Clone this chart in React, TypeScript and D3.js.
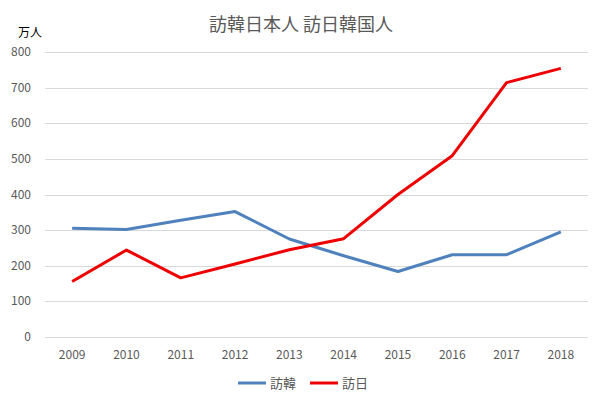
import { useEffect, useRef } from 'react';
import * as d3 from 'd3';

const years = ['2009', '2010', '2011', '2012', '2013', '2014', '2015', '2016', '2017', '2018'];
const visitKorea = [305, 302, 328, 352, 275, 228, 184, 231, 231, 295];
const visitJapan = [156, 244, 166, 205, 245, 276, 400, 509, 714, 754];
const yTicks = [0, 100, 200, 300, 400, 500, 600, 700, 800];

const W = 602, H = 406;
const font = '"Noto Sans CJK JP", "Noto Sans", sans-serif';

export default function App() {
  const ref = useRef<SVGSVGElement>(null);

  useEffect(() => {
    if (!ref.current) return;
    const svg = d3.select(ref.current);
    svg.selectAll('*').remove();

    const x = d3.scaleBand().domain(years).range([45, 588]);
    const y = d3.scaleLinear().domain([0, 800]).range([337, 52]);
    const cx = (d: string) => (x(d) as number) + x.bandwidth() / 2;

    svg.append('rect').attr('x', 0.5).attr('y', 0.5).attr('width', W - 1).attr('height', H - 1)
      .attr('fill', '#fff').attr('stroke', '#d9d9d9');

    svg.append('g').selectAll('line').data(yTicks.slice(1)).enter().append('line')
      .attr('x1', 45).attr('x2', 588)
      .attr('y1', d => Math.round(y(d)) + 0.5).attr('y2', d => Math.round(y(d)) + 0.5)
      .attr('stroke', '#d9d9d9');

    svg.append('line').attr('x1', 45).attr('x2', 588)
      .attr('y1', Math.round(y(0)) + 0.5).attr('y2', Math.round(y(0)) + 0.5).attr('stroke', '#d9d9d9');

    svg.append('g').selectAll('text').data(yTicks).enter().append('text')
      .attr('x', 31).attr('y', d => y(d) + 4).attr('text-anchor', 'end')
      .attr('font-size', 12).attr('font-family', font).attr('fill', '#595959')
      .text(d => d);

    svg.append('g').selectAll('text').data(years).enter().append('text')
      .attr('x', cx).attr('y', 359).attr('text-anchor', 'middle')
      .attr('font-size', 12).attr('font-family', font).attr('fill', '#595959')
      .text(d => d);

    const line = d3.line<number>().x((_, i) => cx(years[i])).y(d => y(d));
    svg.append('path').datum(visitKorea).attr('d', line).attr('fill', 'none')
      .attr('stroke', '#4f81bd').attr('stroke-width', 3).attr('stroke-linejoin', 'round');
    svg.append('path').datum(visitJapan).attr('d', line).attr('fill', 'none')
      .attr('stroke', '#ee0000').attr('stroke-width', 3).attr('stroke-linejoin', 'round');

    svg.append('text').attr('x', 301).attr('y', 31).attr('text-anchor', 'middle')
      .attr('font-size', 18).attr('font-family', font).attr('fill', '#595959')
      .text('訪韓日本人 訪日韓国人');
    svg.append('text').attr('x', 18).attr('y', 37)
      .attr('font-size', 12).attr('font-family', font).attr('fill', '#000')
      .text('万人');

    const legend = [['訪韓', '#4f81bd', 238], ['訪日', '#ee0000', 310]] as const;
    legend.forEach(([label, color, lx]) => {
      svg.append('line').attr('x1', lx).attr('x2', lx + 28).attr('y1', 383).attr('y2', 383)
        .attr('stroke', color).attr('stroke-width', 3);
      svg.append('text').attr('x', lx + 32).attr('y', 388)
        .attr('font-size', 13).attr('font-family', font).attr('fill', '#595959').text(label);
    });
  }, []);

  return <svg ref={ref} width={W} height={H} style={{ display: 'block', margin: -8 }} />;
}
